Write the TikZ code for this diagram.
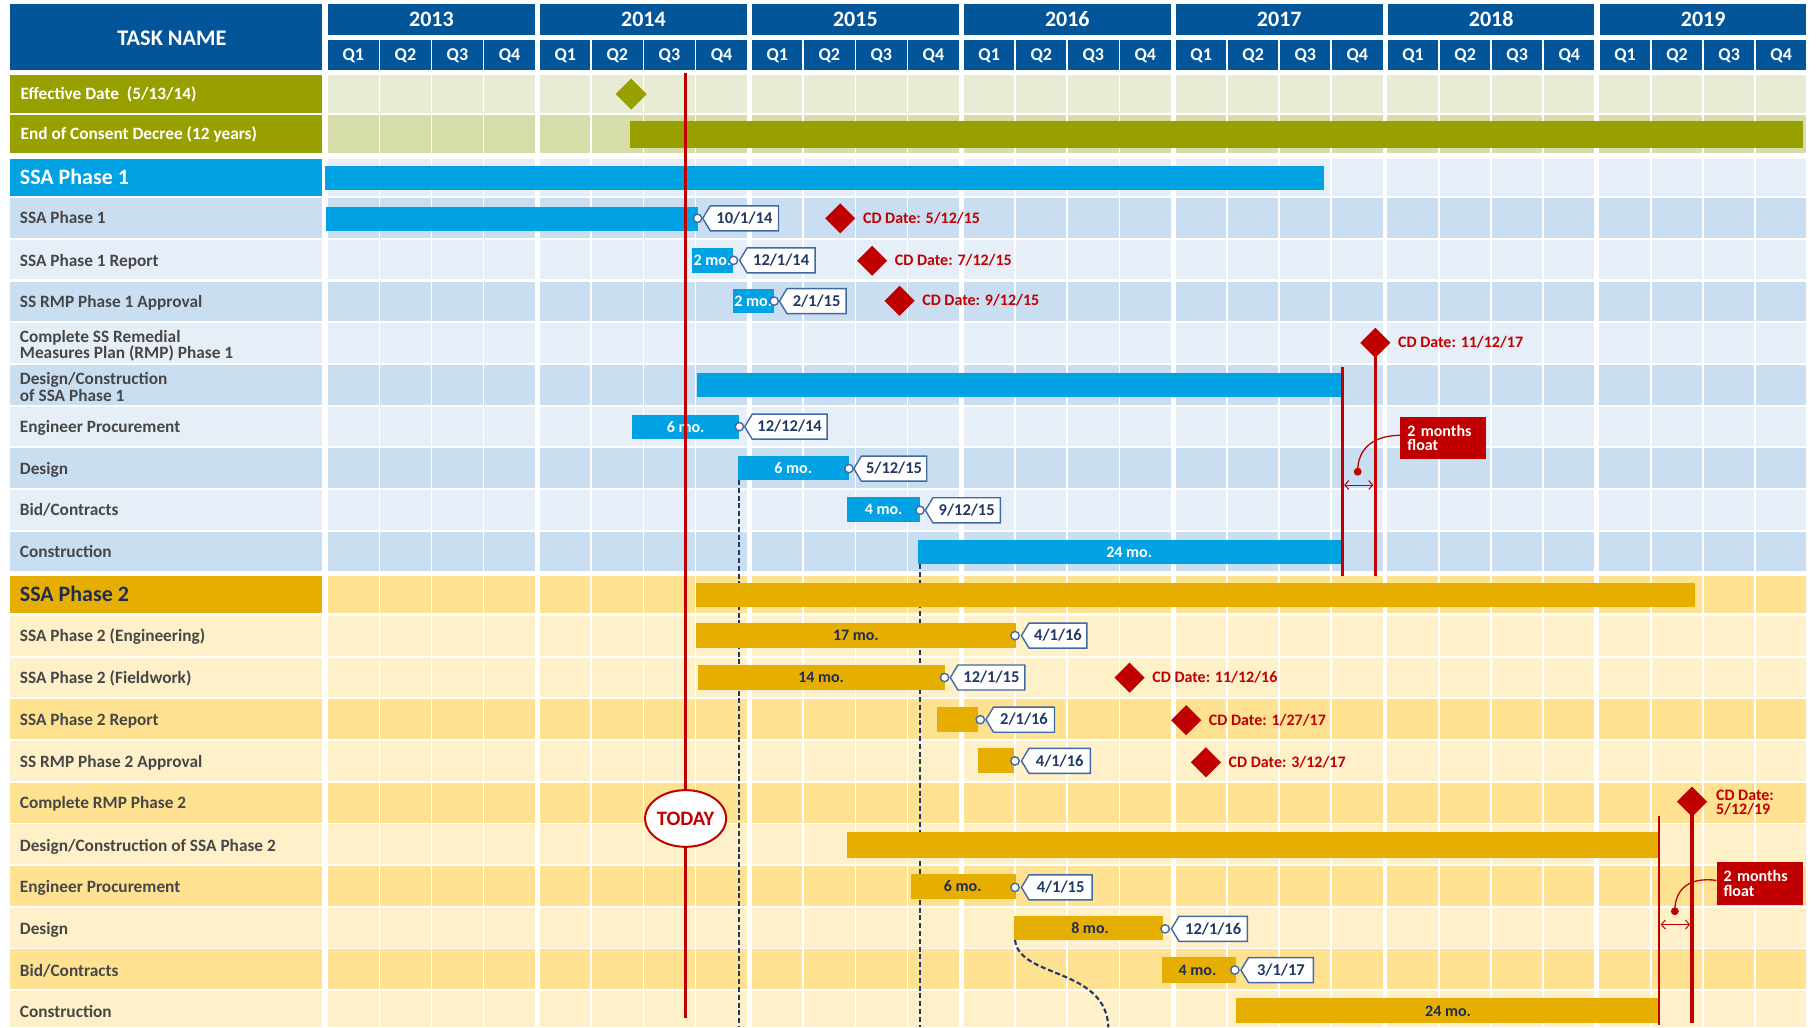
\documentclass[tikz,border=0pt]{standalone}
\usepackage{fontspec}
\setmainfont{Carlito}
\usetikzlibrary{shapes.geometric,arrows.meta}

\definecolor{headnavy}{HTML}{03559A}
\definecolor{olivebar}{HTML}{98A000}
\definecolor{olivelight}{HTML}{E9ECD4}
\definecolor{olivemid}{HTML}{D6DDA9}
\definecolor{skyblue}{HTML}{00A2E3}
\definecolor{bluelight}{HTML}{E6EEF8}
\definecolor{bluedark}{HTML}{CADEF2}
\definecolor{goldbar}{HTML}{E6AE00}
\definecolor{goldlight}{HTML}{FEF0C9}
\definecolor{golddark}{HTML}{FEE291}
\definecolor{cdred}{HTML}{C00000}
\definecolor{tagedge}{HTML}{4169A3}
\definecolor{tagink}{HTML}{1F3864}
\definecolor{labelgray}{HTML}{474747}
\definecolor{darknavy}{HTML}{1F2D50}

\tikzset{
  hdtext/.style={text=white, font=\bfseries\fontsize{22.3}{22.3}\selectfont, inner sep=0pt, text height=14.1pt, text depth=0pt},
  yeartext/.style={text=white, font=\bfseries\fontsize{22}{22}\selectfont, inner sep=0pt, text height=13.9pt, text depth=0pt},
  qtext/.style={text=white, font=\bfseries\fontsize{18}{18}\selectfont, inner sep=0pt, text height=11.4pt, text depth=0pt},
  tasklabel/.style={anchor=west, text=labelgray, font=\bfseries\fontsize{17.3}{17.3}\selectfont, inner sep=0pt, text height=10.9pt, text depth=0pt},
  tasklabel2/.style={anchor=west, text=labelgray, font=\bfseries\fontsize{17.3}{16.4}\selectfont, inner sep=0pt, align=left},
  toplabel/.style={tasklabel, text=white},
  phaselabel/.style={anchor=west, font=\bfseries\fontsize{22}{22}\selectfont, inner sep=0pt, text height=13.9pt, text depth=0pt},
  motext/.style={text=white, font=\bfseries\fontsize{16}{16}\selectfont, inner sep=0pt, text height=10.1pt, text depth=0pt},
  motextdark/.style={motext, text=darknavy},
  tagframe/.style={draw=tagedge, fill=white, line width=1.4pt, line join=miter},
  tagtext/.style={text=tagink, font=\bfseries\fontsize{16.5}{16.5}\selectfont, inner sep=0pt, text height=10.4pt, text depth=0pt},
  tagdot/.style={draw=tagedge, fill=white, line width=1.4pt},
  cdtext/.style={anchor=west, text=cdred, font=\bfseries\fontsize{16}{16}\selectfont, inner sep=0pt, text height=10.1pt, text depth=0pt},
  cdtext2/.style={anchor=west, text=cdred, font=\bfseries\fontsize{16}{14}\selectfont, inner sep=0pt, align=left},
  slackline/.style={draw=cdred, line width=2.4pt},
  deadline/.style={draw=cdred, line width=3.6pt},
  floatbox/.style={fill=cdred, text=white, font=\bfseries\fontsize{16}{14.3}\selectfont, align=left, text width=72pt, inner xsep=7pt, inner ysep=0pt, minimum height=42.3pt},
  floatlink/.style={draw=cdred, line width=1.3pt},
  floatspan/.style={draw=cdred, line width=1pt, {Straight Barb[length=4pt,width=9pt]}-{Straight Barb[length=4pt,width=9pt]}},
  depline/.style={draw=tagink, line width=2.1pt, dash pattern=on 5pt off 2.8pt},
  todayline/.style={draw=cdred, line width=3pt},
  todaybadge/.style={ellipse, draw=cdred, line width=2pt, fill=white, minimum width=80pt, minimum height=56.7pt, inner sep=0pt, text=cdred, font=\bfseries\fontsize{20.5}{20.5}\selectfont},
}

% bar: colour, x1, y1, x2, y2
\newcommand\ganttbar[5]{\fill[#1] (#2,#3) rectangle (#4,#5);}
% finish tag: name, dot x, y, tag tip x, tag right x, date
\newcommand\datetag[6]{%
  \draw[tagframe] (#4,#3) -- ({#4+6.5},{#3-10.8}) -- (#5,{#3-10.8}) -- (#5,{#3+10.8}) -- ({#4+6.5},{#3+10.8}) -- cycle;
  \node[tagtext] (#1) at ({(#4+6.5+#5)/2},#3) {#6};
  \draw[tagdot] (#2,#3) circle[radius=3.6];
}
% deadline diamond: name, x, y, half size, caption
\newcommand\cdmark[5]{%
  \fill[cdred] (#2,{#3-#4}) -- ({#2+#4},#3) -- (#2,{#3+#4}) -- ({#2-#4},#3) -- cycle;
  \node[cdtext] (#1) at ({#2+#4+6.5},#3) {#5};
}

\begin{document}
\begin{tikzpicture}[x=1.1582pt, y=-1.1582pt]
\useasboundingbox (0,0) rectangle (1568,887);
\fill[white] (0,0) rectangle (1568,887);

% ---------- header ----------
\fill[headnavy] (8.4,3.5) rectangle (278.3,60.4);
\node[hdtext] (taskname) at (148.5,33) {TASK NAME};
\foreach \yr [count=\k from 0] in {2013,...,2019} {
  \pgfmathsetmacro{\xa}{283.4+183*\k}
  \fill[headnavy] (\xa,3.5) rectangle ({\xa+178.3},30.2);
  \node[yeartext] (year\yr) at ({\xa+89.15},17) {\yr};
  \foreach \q in {1,...,4} {
    \pgfmathsetmacro{\xq}{\xa+(\q-1)*44.95}
    \fill[headnavy] (\xq,34.5) rectangle ({\xq+43.45},60.4);
    \node[qtext] (q\yr-\q) at ({\xq+21.7},47.5) {Q\q};
  }
}

% ---------- row backgrounds ----------
\fill[olivebar] (8.4,64.8) rectangle (278.3,97.3);
\fill[olivelight] (283.4,64.8) rectangle (1559.7,97.3);
\fill[olivebar] (8.4,99.3) rectangle (278.3,131.8);
\fill[olivemid] (283.4,99.3) rectangle (1559.7,131.8);

\fill[skyblue] (8.4,137.3) rectangle (278.3,169.2);
\fill[bluelight] (283.4,137.3) rectangle (1559.7,169.2);
\foreach \i/\c in {0/bluedark,1/bluelight,2/bluedark,3/bluelight,4/bluedark,5/bluelight,6/bluedark,7/bluelight,8/bluedark} {
  \fill[\c] (8.4,{171.2+36*\i}) rectangle (278.3,{205.3+36*\i});
  \fill[\c] (283.4,{171.2+36*\i}) rectangle (1559.7,{205.3+36*\i});
}

\fill[goldbar] (8.4,497.3) rectangle (278.3,529.6);
\fill[golddark] (283.4,497.3) rectangle (1559.7,529.6);
\foreach \i/\c in {0/goldlight,1/goldlight,2/golddark,3/goldlight,4/golddark,5/goldlight,6/golddark,7/goldlight,8/golddark,9/goldlight} {
  \fill[\c] (8.4,{531.8+36*\i}) rectangle (278.3,{min(566.2+36*\i,887)});
  \fill[\c] (283.4,{531.8+36*\i}) rectangle (1559.7,{min(566.2+36*\i,887)});
}

% quarter and year grid lines
\foreach \k in {0,...,5} {
  \fill[white] ({461.7+183*\k},62) rectangle ({466+183*\k},887);
}
\foreach \k in {0,...,6} {
  \foreach \j in {1,2,3} {
    \fill[white] ({283.4+183*\k+44.95*\j-1.5},62) rectangle ({283.4+183*\k+44.95*\j},887);
  }
}

% ---------- task names ----------
\node[toplabel] (l-eff) at (17.6,81) {Effective Date~ (5/13/14)};
\node[toplabel] (l-end) at (17.6,115.5) {End of Consent Decree (12 years)};

\node[phaselabel, text=white] (l-ph1) at (17,153.3) {SSA Phase 1};
\node[tasklabel] (l-p1-1) at (17,188.5) {SSA Phase 1};
\node[tasklabel] (l-p1-2) at (17,225) {SSA Phase 1 Report};
\node[tasklabel] (l-p1-3) at (17,260.7) {SS RMP Phase 1 Approval};
\node[tasklabel2] (l-p1-4) at (17,298.3) {Complete SS Remedial\\Measures Plan (RMP) Phase 1};
\node[tasklabel2] (l-p1-5) at (17,334.3) {Design/Construction\\of SSA Phase 1};
\node[tasklabel] (l-p1-6) at (17,368.8) {Engineer Procurement};
\node[tasklabel] (l-p1-7) at (17,405) {Design};
\node[tasklabel] (l-p1-8) at (17,440.8) {Bid/Contracts};
\node[tasklabel] (l-p1-9) at (17,477) {Construction};

\node[phaselabel, text=darknavy] (l-ph2) at (17,513.7) {SSA Phase 2};
\node[tasklabel] (l-p2-1) at (17,549.5) {SSA Phase 2 (Engineering)};
\node[tasklabel] (l-p2-2) at (17,585.5) {SSA Phase 2 (Fieldwork)};
\node[tasklabel] (l-p2-3) at (17,621.5) {SSA Phase 2 Report};
\node[tasklabel] (l-p2-4) at (17,657.8) {SS RMP Phase 2 Approval};
\node[tasklabel] (l-p2-5) at (17,693.8) {Complete RMP Phase 2};
\node[tasklabel] (l-p2-6) at (17,730.2) {Design/Construction of SSA Phase 2};
\node[tasklabel] (l-p2-7) at (17,766) {Engineer Procurement};
\node[tasklabel] (l-p2-8) at (17,802.3) {Design};
\node[tasklabel] (l-p2-9) at (17,838.3) {Bid/Contracts};
\node[tasklabel] (l-p2-10) at (17,874) {Construction};

% ---------- dependency lines (behind the bars) ----------
\coordinate (dep1a) at (638.4,414.5);
\coordinate (dep1b) at (638.4,887);
\coordinate (dep2a) at (794.3,487.3);
\coordinate (dep2b) at (794.3,887);
\coordinate (dep3a) at (876.4,811.6);
\coordinate (dep3b) at (957,887);
\draw[depline] (dep1a) -- (dep1b);
\draw[depline] (dep2a) -- (dep2b);
\draw[depline] (dep3a) .. controls (880,845) and (955,835) .. (dep3b);

% ---------- consent decree ----------
\fill[olivebar] (545,67.8) -- (558.4,81.2) -- (545,94.6) -- (531.6,81.2) -- cycle;
\ganttbar{olivebar}{544.2}{104.5}{1557}{127.5}

% ---------- SSA phase 1 ----------
\ganttbar{skyblue}{281}{143}{1142.8}{164}
\ganttbar{skyblue}{281.6}{178.5}{602.3}{199.2}
\ganttbar{skyblue}{597.2}{214}{632.6}{235.5}
\ganttbar{skyblue}{632.6}{249.5}{668.4}{270.5}
\ganttbar{skyblue}{601.6}{322}{1158.9}{342.5}
\ganttbar{skyblue}{545.6}{358.3}{638.4}{379}
\ganttbar{skyblue}{636.8}{393.7}{733.1}{414.5}
\ganttbar{skyblue}{731.3}{429.4}{794.3}{451}
\ganttbar{skyblue}{792.5}{466.3}{1158.9}{487.3}

\node[motext, anchor=west] (m-p1-2) at (598.8,225) {2 mo.};
\node[motext, anchor=west] (m-p1-3) at (634,260) {2 mo.};
\node[motext] (m-p1-6) at (592,368.7) {6 mo.};
\node[motext] (m-p1-7) at (684.9,404.1) {6 mo.};
\node[motext] (m-p1-8) at (763,440.2) {4 mo.};
\node[motext] (m-p1-9) at (975,476.8) {24 mo.};

\datetag{t-p1-1}{602.3}{188.5}{606.8}{672.2}{10/1/14}
\datetag{t-p1-2}{633.3}{224.8}{638.6}{703.8}{12/1/14}
\datetag{t-p1-3}{668.4}{260}{673}{730.6}{2/1/15}
\datetag{t-p1-6}{638.4}{368.4}{643}{714.1}{12/12/14}
\datetag{t-p1-7}{733}{404.6}{737.2}{800.2}{5/12/15}
\datetag{t-p1-8}{794.3}{440.6}{799}{863.8}{9/12/15}

\cdmark{cd-p1-1}{725.5}{188.5}{13}{CD Date: 5/12/15}
\cdmark{cd-p1-2}{753}{225.1}{13}{CD Date: 7/12/15}
\cdmark{cd-p1-3}{776.7}{259.7}{13}{CD Date: 9/12/15}
\cdmark{cd-p1-4}{1187.5}{296}{13}{CD Date: 11/12/17}

\coordinate (fin1a) at (1159.3,317);
\coordinate (fin1b) at (1159.3,497.5);
\coordinate (cd1a) at (1187.5,296);
\coordinate (cd1b) at (1187.5,497.5);
\draw[slackline] (fin1a) -- (fin1b);
\draw[deadline] (cd1a) -- (cd1b);

\node[floatbox, anchor=north west] (float1) at (1209,360) {2 months\\float};
\coordinate (dot1) at (1172.3,407.3);
\draw[floatlink] ([yshift=3pt]float1.west) .. controls (1185,376) and (1172,388) .. (dot1);
\fill[cdred] (dot1) circle[radius=3.4];
\coordinate (span1a) at (1160.6,418.8);
\coordinate (span1b) at (1185.8,418.8);
\draw[floatspan] (span1a) -- (span1b);

% ---------- SSA phase 2 ----------
\ganttbar{goldbar}{601}{503}{1463.8}{523.8}
\ganttbar{goldbar}{601}{538.2}{877}{559.3}
\ganttbar{goldbar}{602.3}{574.2}{816}{595.8}
\ganttbar{goldbar}{809.2}{610.4}{844.7}{631.8}
\ganttbar{goldbar}{844.7}{646.1}{875.4}{667.2}
\ganttbar{goldbar}{731.3}{718.6}{1432.7}{740.5}
\ganttbar{goldbar}{786.6}{754.9}{877}{776.5}
\ganttbar{goldbar}{875.7}{791}{1004.4}{811.6}
\ganttbar{goldbar}{1003.3}{826.6}{1067.5}{848.5}
\ganttbar{goldbar}{1067.5}{862}{1432.7}{883.6}

\node[motextdark] (m-p2-1) at (739,548.8) {17 mo.};
\node[motextdark] (m-p2-2) at (709,585) {14 mo.};
\node[motextdark] (m-p2-7) at (831.3,765.8) {6 mo.};
\node[motextdark] (m-p2-8) at (941.2,801.4) {8 mo.};
\node[motextdark] (m-p2-9) at (1034,837.6) {4 mo.};
\node[motextdark] (m-p2-10) at (1250.3,872.9) {24 mo.};

\datetag{t-p2-1}{876.4}{548.8}{882}{938.5}{4/1/16}
\datetag{t-p2-2}{815.6}{585}{820.6}{884.9}{12/1/15}
\datetag{t-p2-3}{846.4}{621.4}{851.3}{910.5}{2/1/16}
\datetag{t-p2-4}{876.4}{657}{882}{941.5}{4/1/16}
\datetag{t-p2-7}{876.4}{766.2}{882}{943}{4/1/15}
\datetag{t-p2-8}{1006}{802}{1011.5}{1077}{12/1/16}
\datetag{t-p2-9}{1066.2}{837.6}{1071.5}{1134}{3/1/17}

\cdmark{cd-p2-2}{975.3}{585.1}{13}{CD Date: 11/12/16}
\cdmark{cd-p2-3}{1024.2}{621.8}{13}{CD Date: 1/27/17}
\cdmark{cd-p2-4}{1041.2}{658.2}{13}{CD Date: 3/12/17}
\fill[cdred] (1461,679.2) -- (1474,692.2) -- (1461,705.2) -- (1448,692.2) -- cycle;
\node[cdtext2] (cd-p2-5) at (1481.5,692.6) {CD Date:\\5/12/19};

\coordinate (fin2a) at (1432.6,704.8);
\coordinate (fin2b) at (1432.6,885);
\coordinate (cd2a) at (1461,692.2);
\coordinate (cd2b) at (1461,883.6);
\draw[slackline] (fin2a) -- (fin2b);
\draw[deadline] (cd2a) -- (cd2b);

\node[floatbox, anchor=north west] (float2) at (1482,744.3) {2 months\\float};
\coordinate (dot2) at (1446.1,786.8);
\draw[floatlink] ([yshift=3pt]float2.west) .. controls (1458,757) and (1446,768) .. (dot2);
\fill[cdred] (dot2) circle[radius=3.4];
\coordinate (span2a) at (1433.9,798.3);
\coordinate (span2b) at (1459.3,798.3);
\draw[floatspan] (span2a) -- (span2b);

% ---------- status date ----------
\coordinate (todaytop) at (592,63);
\coordinate (todaybot) at (592,879);
\node[todaybadge] (today) at (592,706.7) {TODAY};
\draw[todayline] (todaytop) -- (today.north);
\draw[todayline] (today.south) -- (todaybot);

\end{tikzpicture}
\end{document}
